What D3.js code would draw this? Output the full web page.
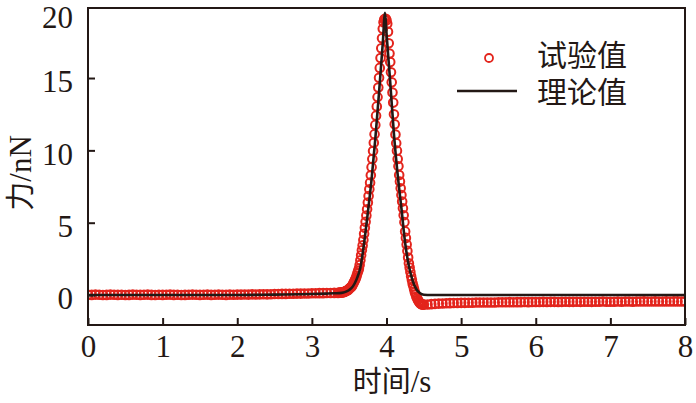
<!DOCTYPE html>
<html><head><meta charset="utf-8">
<script src="https://cdn.jsdelivr.net/npm/d3@7"></script>
<style>body{margin:0;background:#fff}</style>
</head><body><svg id="c" width="696" height="403"></svg>
<script>
// ---- data ----
const xTicks = [0,1,2,3,4,5,6,7,8];
const yTicks = [0,5,10,15,20];
const legendLabels = ["试验值","理论值"];
const xTitle = ["时间","/s"];
const yTitle = ["力","/nN"];

// theoretical curve (time s, force nN)
const theoryT = [0,2.0,2.5,3.0,3.2,3.3,3.4,3.45,3.5,3.55,3.6,3.65,3.7,3.75,3.8,3.85,3.9,3.95,3.98,4.0,4.05,4.1,4.15,4.2,4.25,4.3,4.35,4.4,4.45,4.5,4.6,8.0];
const theoryF = [0,0,0.03,0.07,0.1,0.12,0.15,0.22,0.35,0.6,1.1,1.9,3.6,5.7,8.0,10.8,14.0,17.4,19.5,18.1,14.7,11.1,8.3,6.0,3.6,2.0,1.0,0.4,0.12,0.02,0,0];

// experimental samples
const expT = [
 0,0.05,0.1,0.15,0.2,0.25,0.3,0.35,0.4,0.45,0.5,0.55,0.6,0.65,0.7,0.75,0.8,0.85,0.9,0.95,
 1,1.05,1.1,1.15,1.2,1.25,1.3,1.35,1.4,1.45,1.5,1.55,1.6,1.65,1.7,1.75,1.8,1.85,1.9,1.95,
 2,2.05,2.1,2.15,2.2,2.25,2.3,2.35,2.4,2.45,2.5,2.55,2.6,2.65,2.7,2.75,2.8,2.85,2.9,2.95,
 3,3.05,3.1,3.15,3.2,3.25,3.3,3.35,
 3.36,3.37,3.38,3.39,3.40,3.41,3.42,3.43,3.44,3.45,3.46,3.47,3.48,3.49,3.50,3.51,3.52,3.53,3.54,3.55,
 3.56,3.57,3.58,3.59,3.60,3.61,3.62,3.63,3.64,3.65,3.66,3.67,3.68,3.69,3.70,3.71,3.72,3.73,3.74,3.75,
 3.76,3.77,3.78,3.79,3.80,3.81,3.82,3.83,3.84,3.85,3.86,3.87,3.88,3.89,3.90,3.91,3.92,3.93,3.94,3.95,
 3.96,3.97,3.98,3.99,4.00,4.01,4.02,4.03,4.04,4.05,4.06,4.07,4.08,4.09,4.10,4.11,4.12,4.13,4.14,4.15,
 4.16,4.17,4.18,4.19,4.20,4.21,4.22,4.23,4.24,4.25,4.26,4.27,4.28,4.29,4.30,4.31,4.32,4.33,4.34,4.35,
 4.36,4.37,4.38,4.39,4.40,4.41,4.42,4.43,4.44,4.45,4.46,4.47,4.48,4.49,4.50,
 4.55,4.6,4.65,4.7,4.75,4.8,4.85,4.9,4.95,5,
 5.05,5.1,5.15,5.2,5.25,5.3,5.35,5.4,5.45,5.5,5.55,5.6,5.65,5.7,5.75,5.8,5.85,5.9,5.95,6,
 6.05,6.1,6.15,6.2,6.25,6.3,6.35,6.4,6.45,6.5,6.55,6.6,6.65,6.7,6.75,6.8,6.85,6.9,6.95,7,
 7.05,7.1,7.15,7.2,7.25,7.3,7.35,7.4,7.45,7.5,7.55,7.6,7.65,7.7,7.75,7.8,7.85,7.9,7.95,8
];
const expF = [
 0.02,0.01,0.03,0.02,0.00,0.01,0.03,0.02,0.01,0.02,0.00,0.01,0.03,0.02,0.01,0.02,0.03,0.01,0.00,0.02,
 0.01,0.02,0.03,0.01,0.02,0.00,0.01,0.02,0.03,0.02,0.01,0.02,0.03,0.01,0.02,0.03,0.02,0.01,0.03,0.02,
 0.03,0.03,0.04,0.03,0.05,0.04,0.05,0.06,0.05,0.06,0.07,0.07,0.08,0.08,0.09,0.09,0.10,0.10,0.11,0.11,
 0.12,0.12,0.13,0.13,0.14,0.14,0.15,0.15,
 0.16,0.16,0.17,0.17,0.18,0.19,0.20,0.21,0.23,0.26,0.29,0.31,0.34,0.37,0.43,0.48,0.53,0.58,0.65,0.75,
 0.85,0.95,1.05,1.18,1.34,1.50,1.66,1.82,2.07,2.41,2.75,3.09,3.43,3.81,4.23,4.65,5.07,5.49,5.93,6.39,
 6.85,7.31,7.77,8.28,8.84,9.40,9.96,10.52,11.12,11.76,12.40,13.04,13.68,14.34,15.02,15.70,16.38,17.06,17.75,18.40,
 18.85,19.05,19.10,19.10,19.00,18.75,18.20,17.40,16.70,16.10,15.40,14.70,14.00,13.30,12.50,11.80,11.10,10.50,9.98,9.40,
 8.90,8.30,7.84,7.38,6.92,6.46,6.00,5.52,5.04,4.40,3.95,3.50,3.05,2.60,2.20,1.90,1.60,1.30,1.05,0.80,
 0.60,0.40,0.20,0.05,-0.10,-0.22,-0.33,-0.42,-0.50,-0.56,-0.60,-0.63,-0.65,-0.66,-0.66,
 -0.65,-0.63,-0.61,-0.59,-0.58,-0.57,-0.56,-0.55,-0.55,-0.54,
 -0.54,-0.53,-0.53,-0.52,-0.52,-0.52,-0.51,-0.51,-0.51,-0.50,-0.50,-0.50,-0.49,-0.50,-0.49,-0.49,-0.48,-0.49,-0.48,-0.48,
 -0.48,-0.47,-0.48,-0.47,-0.47,-0.48,-0.47,-0.46,-0.47,-0.47,-0.46,-0.47,-0.46,-0.46,-0.47,-0.46,-0.46,-0.45,-0.46,-0.46,
 -0.46,-0.45,-0.46,-0.45,-0.45,-0.46,-0.45,-0.45,-0.44,-0.45,-0.45,-0.44,-0.45,-0.45,-0.44,-0.45,-0.44,-0.44,-0.45,-0.44
];

// ---- drawing ----
const RED = "#e3241c", INK = "#231815";
const SERIF = "'Liberation Serif','Times New Roman',serif";
const CJK = "'Noto Sans CJK SC','Noto Sans CJK JP',sans-serif";
const svg = d3.select("#c");
const x = d3.scaleLinear().domain([0,8]).range([88,685]);
const y = d3.scaleLinear().domain([-2.07,19.84]).range([325,8]);

svg.append("defs").append("clipPath").attr("id","clip")
  .append("rect").attr("x",x(0)).attr("y",y(19.84)).attr("width",x(8)-x(0)).attr("height",y(-2.07)-y(19.84));

const plot = svg.append("g").attr("clip-path","url(#clip)");
const expData = expT.map((t,i)=>({t, f: expF[i]}));
plot.selectAll("circle").data(expData).join("circle")
  .attr("cx",d=>x(d.t)).attr("cy",d=>y(d.f)).attr("r",4.3)
  .attr("fill","none").attr("stroke",RED).attr("stroke-width",2);

const thData = theoryT.map((t,i)=>({t, f: theoryF[i]}));
plot.append("path").datum(thData)
  .attr("d", d3.line().x(d=>x(d.t)).y(d=>y(d.f)).curve(d3.curveMonotoneX))
  .attr("fill","none").attr("stroke",INK).attr("stroke-width",2.6);

// frame
svg.append("rect").attr("x",x(0)).attr("y",y(19.84)).attr("width",x(8)-x(0)).attr("height",y(-2.07)-y(19.84))
  .attr("fill","none").attr("stroke",INK).attr("stroke-width",2);

// axes
const gx = svg.append("g").attr("transform",`translate(0,${y(-2.07)})`)
  .call(d3.axisBottom(x).tickValues(xTicks).tickFormat(d3.format("d")).tickSizeInner(-7).tickSizeOuter(0).tickPadding(9.5));
gx.select(".domain").remove();
gx.selectAll("line").attr("stroke",INK).attr("stroke-width",2);
gx.selectAll("text").attr("font-family",SERIF).attr("font-size",31).attr("fill",INK);

const gy = svg.append("g").attr("transform",`translate(${x(0)},0)`)
  .call(d3.axisLeft(y).tickValues(yTicks).tickFormat(d3.format("d")).tickSizeInner(-7).tickSizeOuter(0).tickPadding(15));
gy.select(".domain").remove();
gy.selectAll("line").attr("stroke",INK).attr("stroke-width",2);
gy.selectAll("text").attr("font-family",SERIF).attr("font-size",31).attr("fill",INK).attr("dy","0.44em");
gy.selectAll(".tick").filter(d=>d===20).attr("transform","translate(0,14)").select("line").remove();

// titles
const xt = svg.append("text").attr("x",392).attr("y",392).attr("text-anchor","middle").attr("fill",INK);
xt.append("tspan").attr("font-family",CJK).attr("font-size",29).text(xTitle[0]);
xt.append("tspan").attr("font-family",SERIF).attr("font-size",31).text(xTitle[1]);

const yt = svg.append("text").attr("transform","translate(31,173) rotate(-90)").attr("text-anchor","middle").attr("fill",INK);
yt.append("tspan").attr("font-family",CJK).attr("font-size",29).text(yTitle[0]);
yt.append("tspan").attr("font-family",SERIF).attr("font-size",31).text(yTitle[1]);

// legend
svg.append("circle").attr("cx",489).attr("cy",58).attr("r",4).attr("fill","none").attr("stroke",RED).attr("stroke-width",1.8);
svg.append("line").attr("x1",457).attr("x2",517).attr("y1",91).attr("y2",91).attr("stroke",INK).attr("stroke-width",2.6);
svg.append("text").attr("x",537).attr("y",66).attr("font-family",CJK).attr("font-size",30).attr("fill",INK).text(legendLabels[0]);
svg.append("text").attr("x",537).attr("y",103).attr("font-family",CJK).attr("font-size",30).attr("fill",INK).text(legendLabels[1]);
</script>
</body></html>
